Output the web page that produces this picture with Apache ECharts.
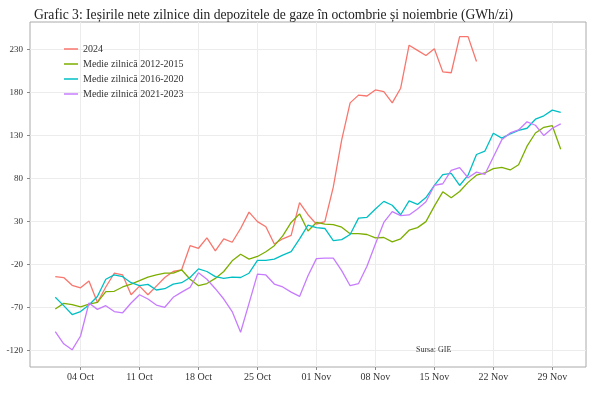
<!DOCTYPE html>
<html>
<head>
<meta charset="utf-8">
<script src="https://cdn.jsdelivr.net/npm/echarts@6.0.0/dist/echarts.min.js"></script>
<style>
  html, body { margin: 0; padding: 0; background: #fff; }
  #main { width: 600px; height: 397px; }
</style>
</head>
<body>
<div id="main"></div>
<script>
// day index: 0 = 01 Oct, 60 = 30 Nov
var seriesNames = ['2024', 'Medie zilnică 2012-2015', 'Medie zilnică 2016-2020', 'Medie zilnică 2021-2023'];
var colors = ['#F8766D', '#7CAE00', '#00BFC4', '#C77CFF'];

// 01 Oct - 20 Nov
var data2024 = [-34, -35, -44, -47, -39, -64, -46, -30, -32, -55, -45, -55, -45, -35, -28, -26, 2, -1, 11, -4,
  10, 6, 22, 41, 30, 24, 4, 10, 14, 52, 38,
  27, 30, 70, 125, 168, 177, 176, 183, 181, 168, 185, 235, 229, 223, 231, 204, 203, 245, 245, 216];
// 01 Oct - 30 Nov
var data1215 = [-71.5, -65, -66.5, -69, -66, -64, -51.5, -51, -46, -42.6, -38.7, -34.5, -32, -30, -30, -26, -37, -44.5, -42, -36,
  -28, -15.6, -8, -13.6, -10.5, -5, 2, 13.4, 29, 39, 19,
  29, 27, 26.5, 23.5, 16, 16, 15, 11, 11.5, 6.5, 10, 20, 23, 30, 48, 64.6, 57.7, 65, 75.6, 84,
  86.5, 91.5, 93, 90, 96, 117.7, 133, 139.6, 141.5, 114];
var data1620 = [-58, -67.7, -78, -74.6, -67, -57, -37, -32, -34, -41, -44.5, -43, -49.5, -48, -42.6, -41, -35, -25, -28, -34,
  -36, -34.5, -35, -30, -15, -15, -13.6, -9, -5, 10, 26,
  23, 22, 8, 9, 15, 34, 35, 44.6, 53.5, 49, 38, 54, 50, 58, 72, 84.6, 86, 72, 84, 108,
  112, 132.7, 127, 132, 136, 138.5, 149, 153, 159.6, 157];
var data2123 = [-97.8, -112, -119, -103, -64.6, -72, -67.7, -74.6, -76, -64.6, -55, -60, -67, -69.6, -58, -52, -46.5, -29.5, -37, -48,
  -60, -74.6, -98.6, -65, -31, -32, -42.6, -46, -52, -57, -33,
  -13, -12.5, -12.5, -27, -44.5, -42, -22, 4, 29, 41.5, 37, 37.7, 44.6, 53, 72, 74, 89.6, 92.7, 81, 87.5,
  85, 105, 125, 133, 136.5, 146, 142, 130, 138.5, 143.5];

var xTickValues = [3, 10, 17, 24, 31, 38, 45, 52, 59];
var xTickLabels = ['04 Oct', '11 Oct', '18 Oct', '25 Oct', '01 Nov', '08 Nov', '15 Nov', '22 Nov', '29 Nov'];
var yTickValues = [-120, -70, -20, 30, 80, 130, 180, 230];

var allData = [data2024, data1215, data1620, data2123];

var chart = echarts.init(document.getElementById('main'), null, { renderer: 'canvas' });
var serif = 'Liberation Serif';
var textCol = '#333';

var option = {
  backgroundColor: '#fff',
  animation: false,
  color: colors,
  title: {
    text: 'Grafic 3: Ieșirile nete zilnice din depozitele de gaze în octombrie și noiembrie (GWh/zi)',
    left: 29,
    top: 3,
    textStyle: { fontFamily: serif, fontSize: 13.6, fontWeight: 'normal', color: '#222' }
  },
  legend: {
    orient: 'vertical',
    left: 59,
    top: 38,
    icon: 'rect',
    itemWidth: 14,
    itemHeight: 1.5,
    itemGap: 3,
    textStyle: { fontFamily: serif, fontSize: 10, color: textCol, lineHeight: 12 },
    data: seriesNames
  },
  grid: { left: 30, right: 14, top: 22, bottom: 30, show: true, borderColor: '#aaa', borderWidth: 1 },
  xAxis: {
    type: 'value',
    min: -3,
    max: 63,
    axisLine: { show: false, onZero: false },
    axisTick: { show: true, length: 3, lineStyle: { color: '#888' }, customValues: xTickValues },
    axisLabel: {
      customValues: xTickValues,
      margin: 5,
      fontFamily: serif,
      fontSize: 10,
      color: textCol,
      formatter: function (v) { return xTickLabels[xTickValues.indexOf(v)]; }
    },
    splitLine: { show: true, lineStyle: { color: '#ececec', width: 1 } }
  },
  yAxis: {
    type: 'value',
    min: -139,
    max: 262,
    axisLine: { show: false, onZero: false },
    axisTick: { show: true, length: 3, lineStyle: { color: '#888' }, customValues: yTickValues },
    axisLabel: { customValues: yTickValues, margin: 7, fontFamily: serif, fontSize: 9, color: textCol },
    splitLine: { show: true, lineStyle: { color: '#ececec', width: 1 } }
  },
  graphic: [{
    type: 'text',
    left: 416,
    top: 346,
    z: 100,
    style: { text: 'Sursa: GIE', font: '8px "Liberation Serif"', fill: textCol }
  }],
  series: seriesNames.map(function (name, k) {
    return {
      name: name,
      type: 'line',
      symbol: 'none',
      lineStyle: { width: 1.3 },
      data: allData[k].map(function (v, i) { return [i, v]; })
    };
  })
};

chart.setOption(option);
</script>
</body>
</html>
